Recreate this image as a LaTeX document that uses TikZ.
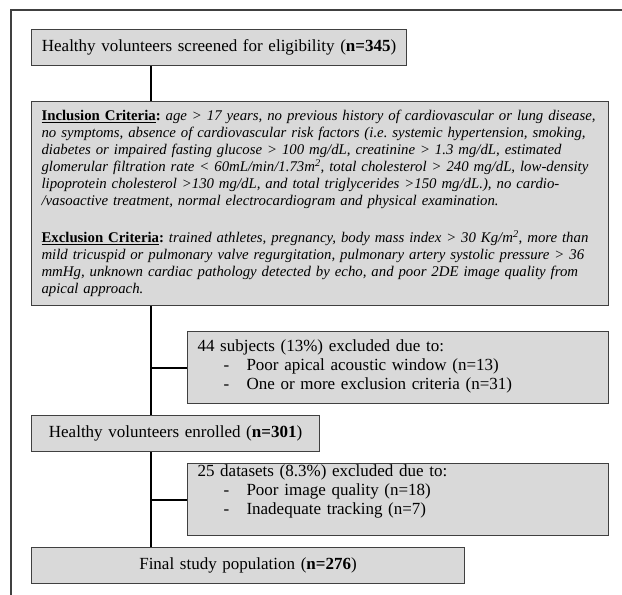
\documentclass[tikz,border=0pt]{standalone}
\usepackage{fontspec}
\setmainfont{Liberation Serif}
\usetikzlibrary{calc}
\definecolor{boxgray}{HTML}{D9D9D9}
\definecolor{edgegray}{HTML}{404040}
\newcommand{\excl}[1]{\hspace*{26pt}\makebox[23pt][l]{-}#1}
\newcommand{\crit}[1]{\textup{\underline{\textbf{#1}}\textbf{:}}}
\frenchspacing

\begin{document}
\begin{tikzpicture}[x=1pt,y=-1pt]
  \tikzset{flowbox/.style={draw=edgegray, line width=1.1pt, fill=boxgray, inner xsep=10pt, inner ysep=0pt,
                           anchor=north west, font=\fontsize{17}{19}\selectfont},
           link/.style={line width=2pt, black}}
  \useasboundingbox (0,0) rectangle (622,595);
  \draw[edgegray, line width=1.3pt] (622,10) -- (11,10) -- (11,595);

  \node[flowbox, text width=355pt, minimum height=36pt, align=center] (screened) at (31,29)
       {Healthy volunteers screened for eligibility (\textbf{n=345})};
  \node[flowbox, text width=557pt, minimum height=204pt, align=left, font=\fontsize{14.8}{17}\selectfont\itshape] (criteria) at (31,101)
       {\crit{Inclusion Criteria} age > 17 years, no previous history of cardiovascular or lung disease,\\
        no symptoms, absence of cardiovascular risk factors (i.e. systemic hypertension, smoking,\\
        diabetes or impaired fasting glucose > 100 mg/dL, creatinine > 1.3 mg/dL, estimated\\
        glomerular filtration rate < 60mL/min/1.73m\textsuperscript{2}, total cholesterol > 240 mg/dL, low-density\\
        lipoprotein cholesterol >130 mg/dL, and total triglycerides >150 mg/dL.), no cardio-\\
        /vasoactive treatment, normal electrocardiogram and physical examination.\\[20pt]
        \crit{Exclusion Criteria} trained athletes, pregnancy, body mass index > 30 Kg/m\textsuperscript{2}, more than\\
        mild tricuspid or pulmonary valve regurgitation, pulmonary artery systolic pressure > 36\\
        mmHg, unknown cardiac pathology detected by echo, and poor 2DE image quality from\\
        apical approach.};
  \node[flowbox, text width=401pt, minimum height=72pt, align=left] (subjects) at (187,331)
       {44 subjects (13\%) excluded due to:\\
        \excl{Poor apical acoustic window (n=13)}\\
        \excl{One or more exclusion criteria (n=31)}\rule[-6pt]{0pt}{0pt}};
  \node[flowbox, text width=268pt, minimum height=36pt, align=center] (enrolled) at (31,415)
       {Healthy volunteers enrolled (\textbf{n=301})};
  \node[flowbox, text width=401pt, minimum height=72pt, align=left] (datasets) at (187,463)
       {25 datasets (8.3\%) excluded due to:\\
        \excl{Poor image quality (n=18)}\\
        \excl{Inadequate tracking (n=7)}\rule[-20pt]{0pt}{0pt}};
  \node[flowbox, text width=413pt, minimum height=36pt, align=center] (final) at (31,547)
       {Final study population (\textbf{n=276})};

  \coordinate (trunk) at (151,0);
  \draw[link] (screened.south -| trunk) -- (criteria.north -| trunk);
  \draw[link] (criteria.south -| trunk) -- (enrolled.north -| trunk);
  \draw[link] (enrolled.south -| trunk) -- (final.north -| trunk);
  \draw[link] (subjects.west -| trunk) -- (subjects.west);
  \draw[link] (datasets.west -| trunk) -- (datasets.west);
\end{tikzpicture}
\end{document}
